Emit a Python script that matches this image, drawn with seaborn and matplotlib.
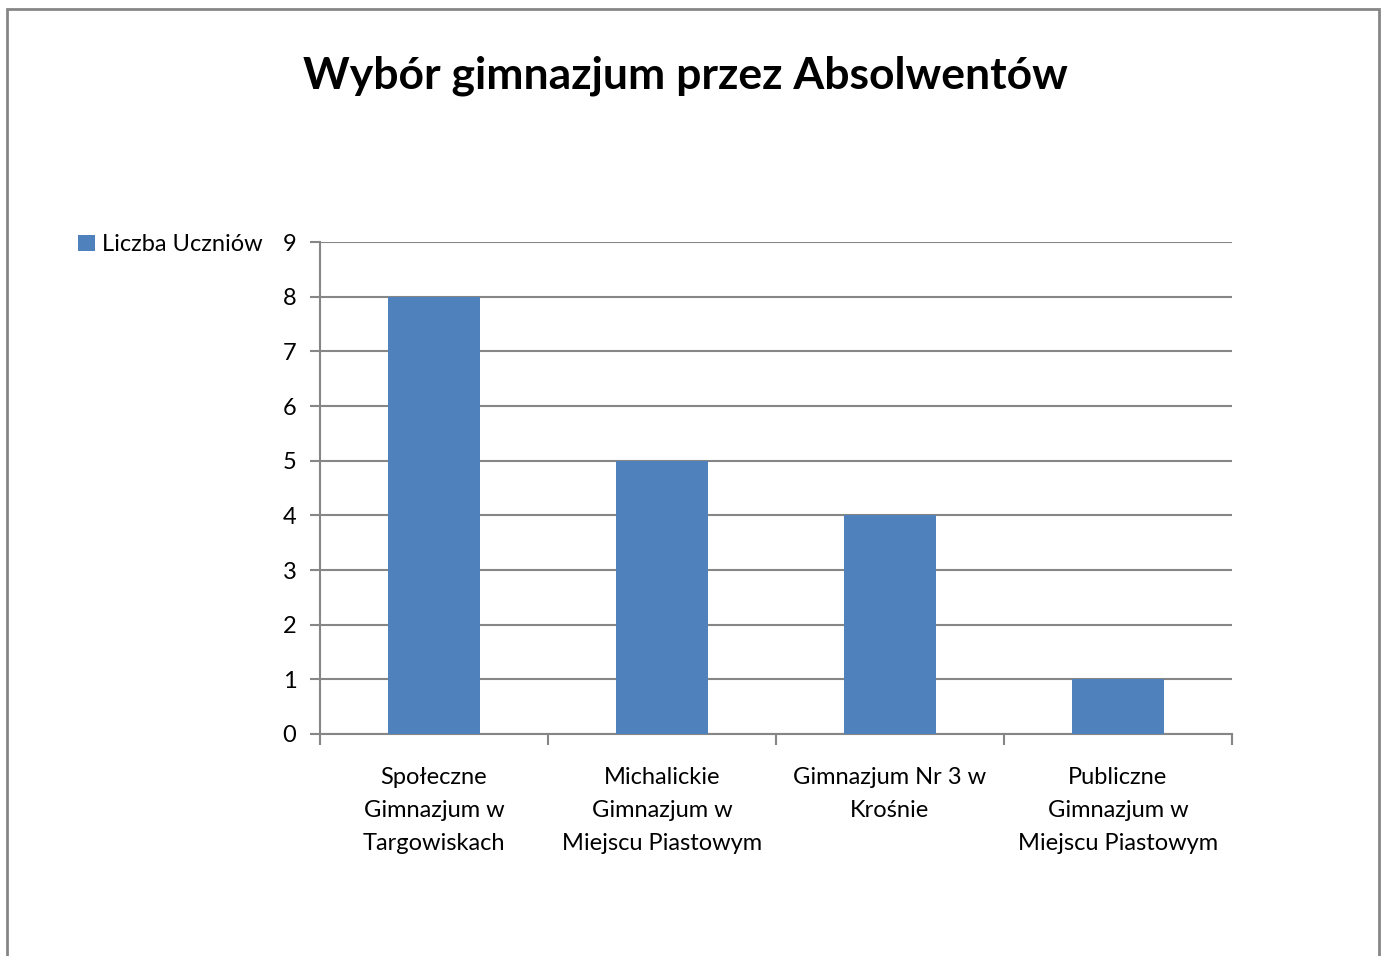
import matplotlib
matplotlib.use("Agg")
import matplotlib.pyplot as plt
import seaborn as sns
from matplotlib.patches import Rectangle

# data
categories = ["Społeczne\nGimnazjum w\nTargowiskach",
              "Michalickie\nGimnazjum w\nMiejscu Piastowym",
              "Gimnazjum Nr 3 w\nKrośnie",
              "Publiczne\nGimnazjum w\nMiejscu Piastowym"]
liczba_uczniow = [8, 5, 4, 1]
series_name = "Liczba Uczniów"
title = "Wybór gimnazjum przez Absolwentów"

sns.set_theme(style="white")
plt.rcParams['font.family'] = ['Lato', 'DejaVu Sans']
plt.rcParams['text.color'] = 'black'
plt.rcParams['xtick.color'] = 'black'
plt.rcParams['ytick.color'] = 'black'

bar_color = "#4F81BD"
grid_color = "#868686"

fig = plt.figure(figsize=(13.82, 9.56), dpi=100)
ax = fig.add_axes([320/1382, 1 - 734/956, 912/1382, 492/956])

sns.barplot(x=categories, y=liczba_uczniow, color=bar_color, width=0.4,
            saturation=1, label=series_name, ax=ax, zorder=3, linewidth=0)

ax.set_ylim(0, 9)
ax.set_xlim(-0.5, len(categories) - 0.5)
ax.set_yticks(range(0, 10))
ax.yaxis.grid(True, color=grid_color, linewidth=1.5, zorder=0)
ax.set_axisbelow(True)
for s in ["top", "right"]:
    ax.spines[s].set_visible(False)
for s in ["left", "bottom"]:
    ax.spines[s].set_color(grid_color)
    ax.spines[s].set_linewidth(1.5)

ax.tick_params(axis="y", which="major", direction="out", length=7, width=1.5,
               color=grid_color, labelcolor="black", labelsize=17, pad=10, left=True)
ax.tick_params(axis="x", which="major", length=0, labelsize=17, pad=24,
               labelcolor="black")
ax.set_xticks([i - 0.5 for i in range(len(categories) + 1)], minor=True)
ax.tick_params(axis="x", which="minor", direction="out", length=8, width=1.5,
               color=grid_color, bottom=True)
for lab in ax.get_xticklabels():
    lab.set_linespacing(1.7)

ax.legend(loc="center left", bbox_to_anchor=(78/1382, 1 - 245/956),
          bbox_transform=fig.transFigure, frameon=False, fontsize=17,
          handlelength=0.7, handleheight=0.7, handletextpad=0.3,
          borderpad=0, borderaxespad=0)

fig.text(685/1382, 1 - 76/956, title, ha="center", va="center",
         fontsize=32, fontweight="bold", color="black")

fig.patches.append(Rectangle((7/1382, -0.02), 1372/1382, 1.02 - 9/956,
                             transform=fig.transFigure, fill=False,
                             edgecolor=grid_color, linewidth=2))

fig.savefig("out.png", dpi=100)
